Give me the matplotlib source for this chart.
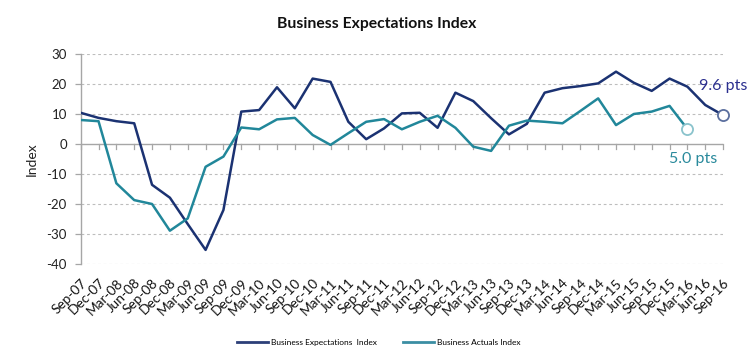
import matplotlib
matplotlib.use("Agg")
import matplotlib.pyplot as plt
from matplotlib.lines import Line2D

quarters = [
    "Sep-07", "Dec-07", "Mar-08", "Jun-08", "Sep-08", "Dec-08", "Mar-09", "Jun-09",
    "Sep-09", "Dec-09", "Mar-10", "Jun-10", "Sep-10", "Dec-10", "Mar-11", "Jun-11",
    "Sep-11", "Dec-11", "Mar-12", "Jun-12", "Sep-12", "Dec-12", "Mar-13", "Jun-13",
    "Sep-13", "Dec-13", "Mar-14", "Jun-14", "Sep-14", "Dec-14", "Mar-15", "Jun-15",
    "Sep-15", "Dec-15", "Mar-16", "Jun-16", "Sep-16",
]
expectations = [
    10.4, 8.7, 7.6, 6.9, -13.6, -17.9, -26.7, -35.3, -22.0, 10.8, 11.3, 18.9,
    11.9, 21.8, 20.7, 7.4, 1.6, 5.2, 10.2, 10.4, 5.4, 17.1, 14.3, 8.6,
    3.2, 6.7, 17.1, 18.6, 19.3, 20.2, 24.1, 20.4, 17.7, 21.8, 19.1, 13.0, 9.6,
]
actuals = [
    8.0, 7.6, -13.1, -18.7, -20.0, -28.9, -24.8, -7.6, -4.2, 5.5, 4.9, 8.2,
    8.7, 3.0, -0.3, 3.6, 7.4, 8.3, 4.9, 7.4, 9.4, 5.4, -0.9, -2.3,
    6.1, 7.8, 7.4, 6.9, 11.0, 15.2, 6.3, 10.0, 10.8, 12.7, 5.0,
]
yticks = [30, 20, 10, 0, -10, -20, -30, -40]

BLUE = "#1b3272"
TEAL = "#21879a"
FONT = "Lato"

fig = plt.figure(figsize=(7.54, 3.64), dpi=100)
ax = fig.add_axes([0.107, 0.2747, 0.852, 0.577])

x_exp = list(range(len(expectations)))
x_act = list(range(len(actuals)))

# dashed gridlines; the zero line doubles as the category axis
for v in yticks:
    if v == 0:
        continue
    ax.axhline(v, color="#bdbdbd", lw=0.8, ls=(0, (2.5, 2.5)), zorder=0)
ax.axhline(0, color="#a6a6a6", lw=1.0, zorder=1)
for i in range(len(quarters)):
    ax.plot([i, i], [0, -1.7], color="#a6a6a6", lw=0.9, zorder=1, clip_on=False)

ax.plot(x_exp, expectations, color=BLUE, lw=1.8, zorder=3)
ax.plot(x_act, actuals, color=TEAL, lw=1.8, zorder=3)
ax.plot(x_exp[-1], expectations[-1], "o", ms=8, mfc="white", mec="#5b6f9e",
        mew=1.3, zorder=4, clip_on=False)
ax.plot(x_act[-1], actuals[-1], "o", ms=8, mfc="white", mec="#8ac3cc",
        mew=1.3, zorder=4, clip_on=False)

ax.set_xlim(0, len(quarters) - 1)
ax.set_ylim(-40, 30)
ax.set_yticks(yticks)
ax.set_yticklabels([str(v) for v in yticks], fontsize=9.5, family=FONT, color="#222222")
ax.set_xticks(range(len(quarters)))
ax.set_xticklabels(quarters, rotation=45, ha="right", rotation_mode="anchor",
                   fontsize=9.8, family=FONT, color="#111111")
ax.tick_params(axis="x", length=0, pad=9)
ax.tick_params(axis="y", length=4, color="#a6a6a6", width=0.9, pad=6)

for s in ["top", "right", "bottom"]:
    ax.spines[s].set_visible(False)
ax.spines["left"].set_color("#a6a6a6")
ax.spines["left"].set_linewidth(1.0)

ax.set_ylabel("Index", fontsize=10, family=FONT, color="#222222", labelpad=6)

ax.text(36.0, 19.3, "9.6 pts", color="#2b2f8f", fontsize=11.5, family=FONT,
        ha="center", va="center")
ax.text(34.3, -5.0, "5.0 pts", color="#2a8a9c", fontsize=11.5, family=FONT,
        ha="center", va="center")

fig.text(0.5, 0.934, "Business Expectations Index", ha="center", va="center",
         fontsize=11.3, fontweight="bold", family=FONT, color="#111111")

handles = [
    Line2D([], [], color="#2c3f78", lw=2),
    Line2D([], [], color="#3b8ea3", lw=2),
]
fig.legend(handles, ["Business Expectations  Index", "Business Actuals Index"],
           loc="center", bbox_to_anchor=(0.502, 0.058), ncol=2, frameon=False,
           prop={"family": FONT, "size": 6}, handlelength=3.8, columnspacing=3.1,
           handletextpad=0.3)

fig.savefig("out.png", dpi=100, facecolor="white")
